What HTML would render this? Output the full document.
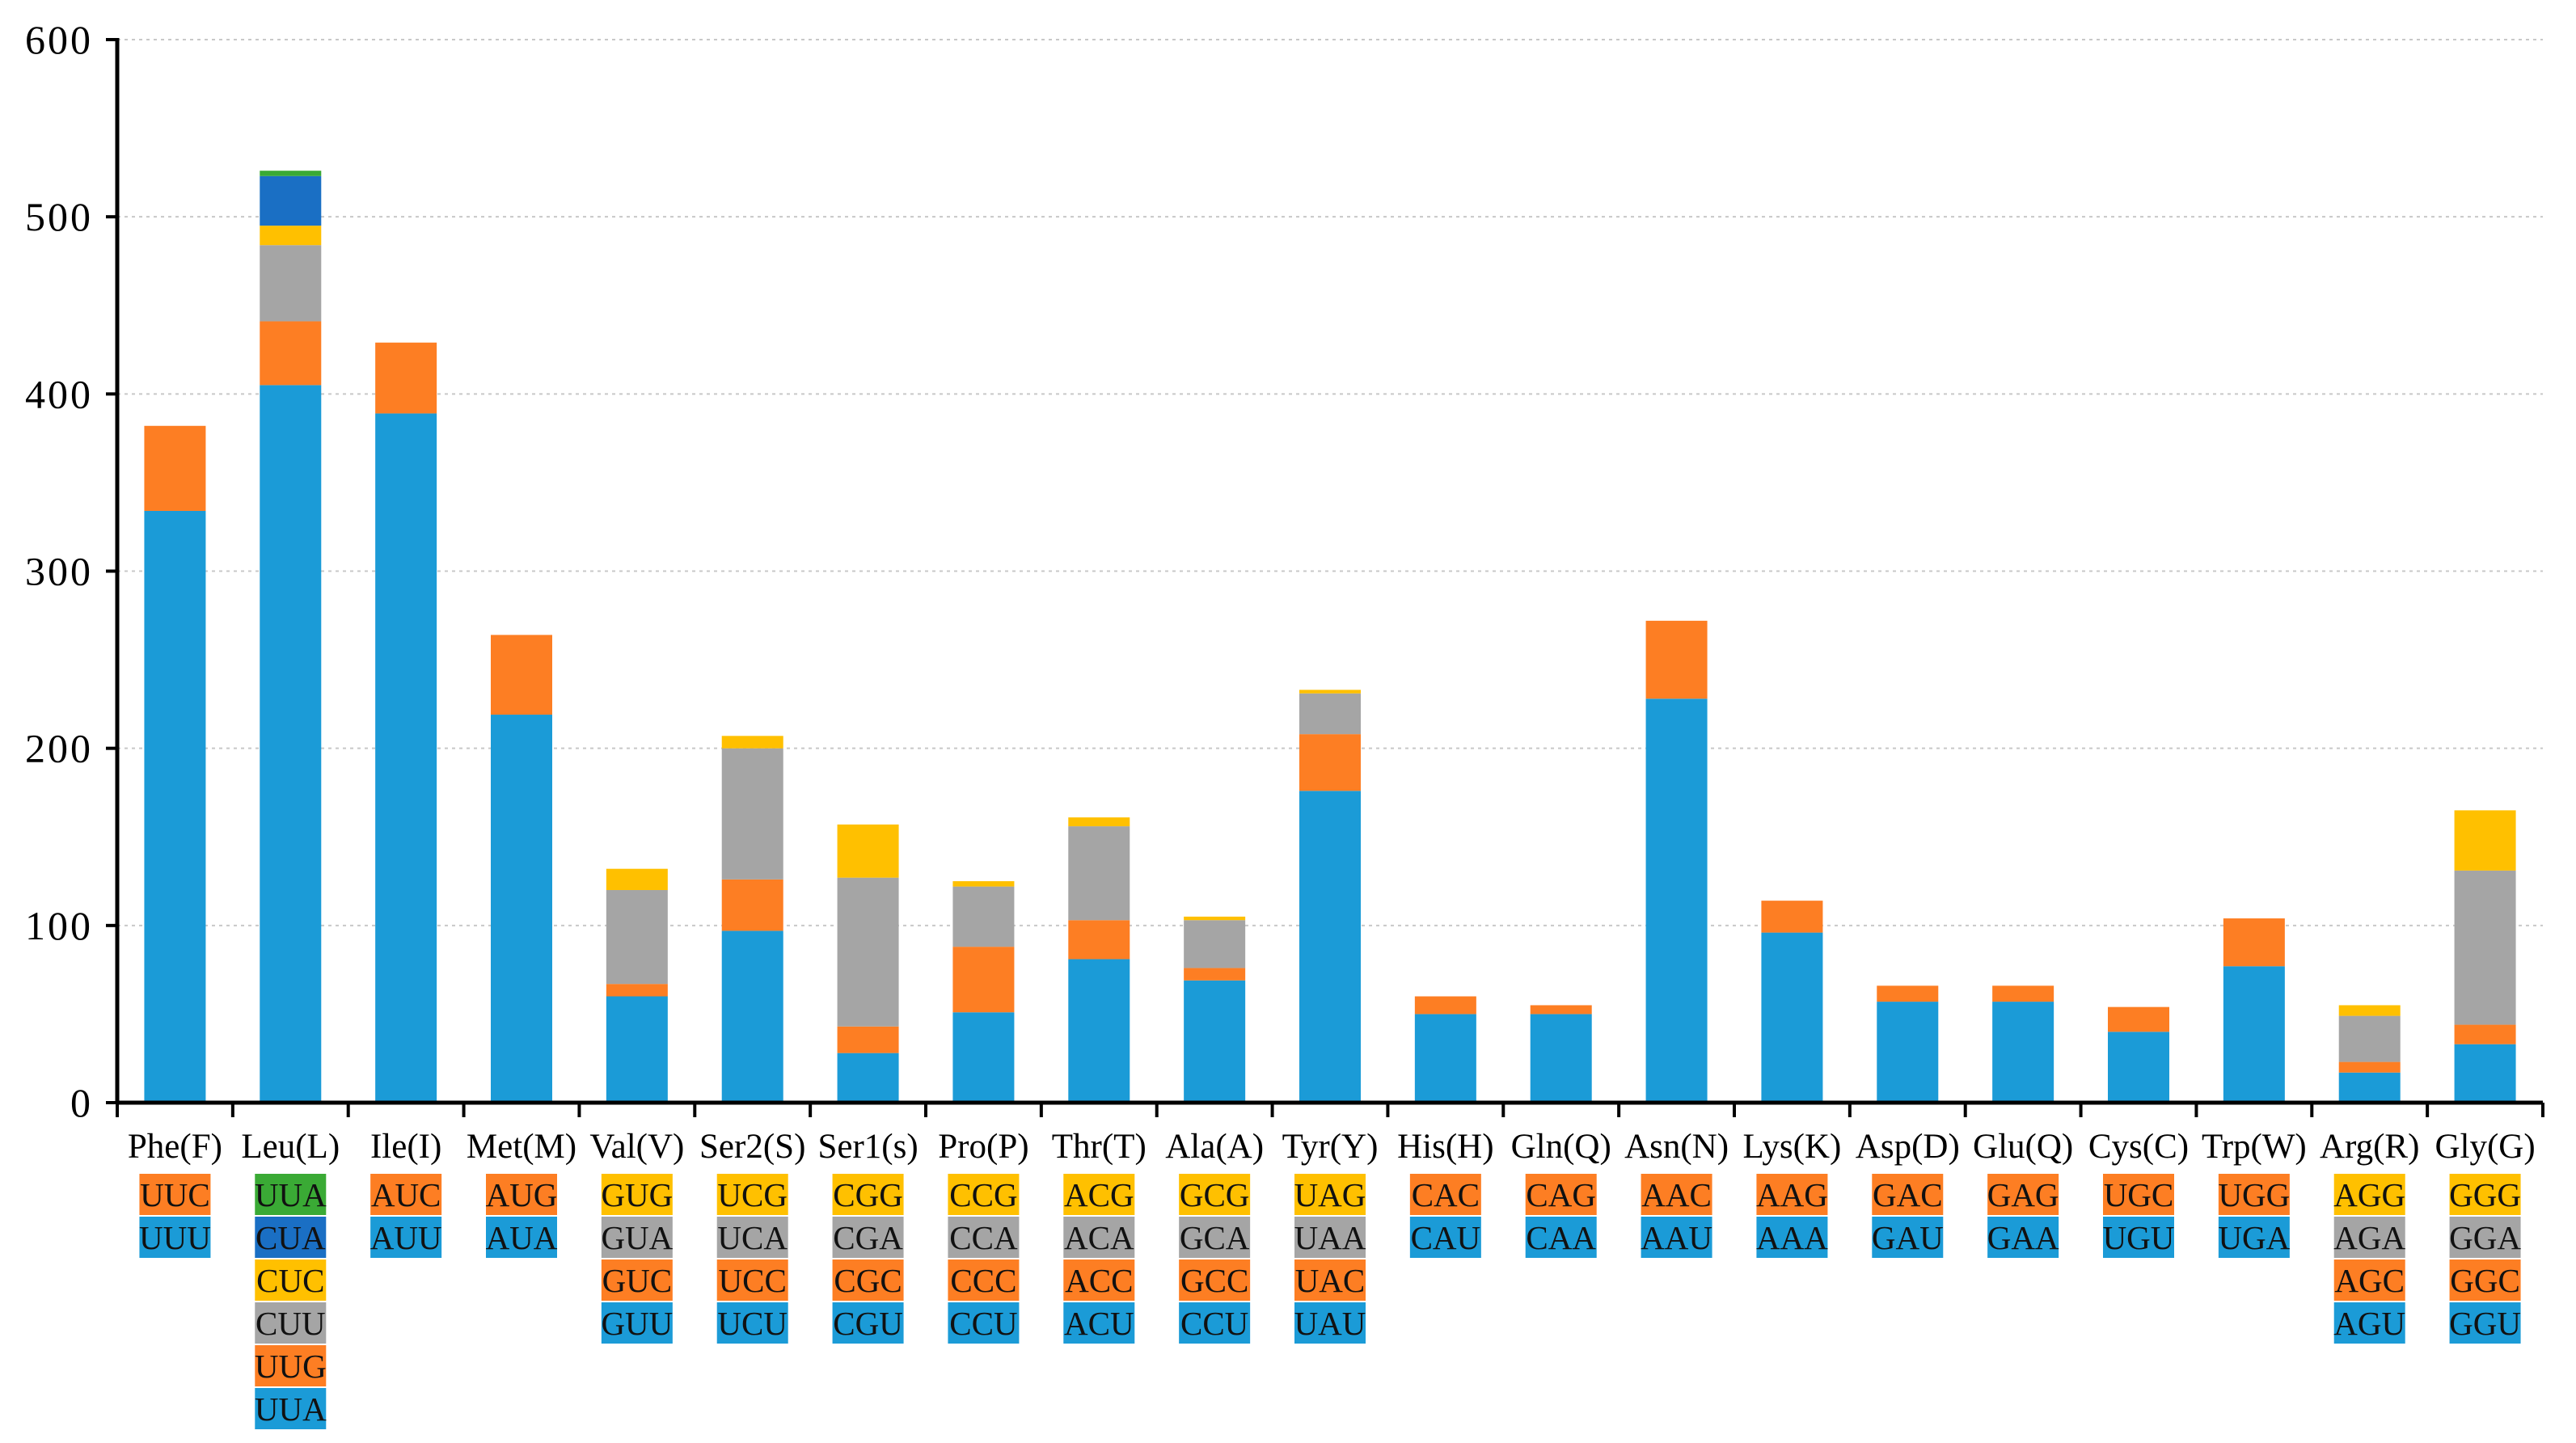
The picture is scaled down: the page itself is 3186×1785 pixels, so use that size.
<!DOCTYPE html>
<html><head><meta charset="utf-8">
<style>
html,body{margin:0;padding:0;background:#fff;}
svg{display:block;font-family:"Liberation Serif",serif;}
</style></head>
<body>
<svg id="chart" width="3186" height="1785" viewBox="0 0 3186 1785" xmlns="http://www.w3.org/2000/svg"></svg>
<script>
const categories = ["Phe(F)","Leu(L)","Ile(I)","Met(M)","Val(V)","Ser2(S)","Ser1(s)","Pro(P)","Thr(T)","Ala(A)","Tyr(Y)","His(H)","Gln(Q)","Asn(N)","Lys(K)","Asp(D)","Glu(Q)","Cys(C)","Trp(W)","Arg(R)","Gly(G)"];
// segment values, bottom to top
const segValues = [
 [334,48],[405,36,43,11,28,3],[389,40],[219,45],[60,7,53,12],[97,29,74,7],[28,15,84,30],
 [51,37,34,3],[81,22,53,5],[69,7,27,2],[176,32,23,2],[50,10],[50,5],[228,44],[96,18],
 [57,9],[57,9],[40,14],[77,27],[17,6,26,6],[33,11,87,34]
];
// codon names, bottom to top
const codons = [
 ["UUU","UUC"],["UUA","UUG","CUU","CUC","CUA","UUA"],["AUU","AUC"],["AUA","AUG"],
 ["GUU","GUC","GUA","GUG"],["UCU","UCC","UCA","UCG"],["CGU","CGC","CGA","CGG"],
 ["CCU","CCC","CCA","CCG"],["ACU","ACC","ACA","ACG"],["CCU","GCC","GCA","GCG"],
 ["UAU","UAC","UAA","UAG"],["CAU","CAC"],["CAA","CAG"],["AAU","AAC"],["AAA","AAG"],
 ["GAU","GAC"],["GAA","GAG"],["UGU","UGC"],["UGA","UGG"],["AGU","AGC","AGA","AGG"],["GGU","GGC","GGA","GGG"]
];
const yTicks = [0,100,200,300,400,500,600];
const palette = ["#1b9bd7","#fd7e23","#a5a5a5","#ffc000","#1a6fc4","#3aaa35"];

const NS="http://www.w3.org/2000/svg";
const svg=document.getElementById('chart');
const X0=145, X1=3145, Y0=1364, Y600=49;
const band=(X1-X0)/categories.length;
const yScale=v=>Y0-(v/600)*(Y0-Y600);
const xCenter=i=>X0+band*(i+0.5);
function mk(tag,attrs){const e=document.createElementNS(NS,tag);for(const k in attrs)e.setAttribute(k,attrs[k]);svg.appendChild(e);return e;}

yTicks.forEach(t=>{
  const y=yScale(t);
  if(t>0){const g=mk('line',{x1:X0,x2:X1,y1:y,y2:y,stroke:'#c8c8c8','stroke-width':2,'stroke-dasharray':'4,5'});
  
  }
  const tk=mk('line',{x1:X0-14,x2:X0,y1:y,y2:y,stroke:'#000','stroke-width':4});
  
  
  const tx=mk('text',{x:X0-30,y:y+17,'text-anchor':'end','font-size':50,'letter-spacing':3});
  tx.textContent=t;
  
  
});

const bw=76;
categories.forEach((c,i)=>{
  let acc=0;
  segValues[i].forEach((v,j)=>{
    const yt=yScale(acc+v), yb=yScale(acc);
    const r=mk('rect',{x:xCenter(i)-bw/2,y:yt,width:bw,height:Math.max(0,yb-yt),fill:palette[j]});
    
    
    acc+=v;
  });
  const l=mk('text',{x:xCenter(i),y:1432,'text-anchor':'middle','font-size':43});
  l.textContent=c;
  
  
  const n=codons[i].length;
  for(let k=0;k<n;k++){
    const j=n-1-k;
    const by=1452+k*53;
    const b=mk('rect',{x:xCenter(i)-44,y:by,width:88,height:51,fill:palette[j]});
    
    
    const t=mk('text',{x:xCenter(i),y:by+40,'text-anchor':'middle','font-size':41,fill:'#111'});
    t.textContent=codons[i][j];
    
    
  }
});

for(let i=0;i<=categories.length;i++){
  const x=X0+band*i;
  const t=mk('line',{x1:x,x2:x,y1:Y0,y2:Y0+18,stroke:'#000','stroke-width':4});
  
  
}
const ya=mk('line',{x1:X0,x2:X0,y1:Y600-2,y2:Y0+2,stroke:'#000','stroke-width':5});


const xa=mk('line',{x1:X0,x2:X1,y1:Y0,y2:Y0,stroke:'#000','stroke-width':5});


</script>
</body></html>
